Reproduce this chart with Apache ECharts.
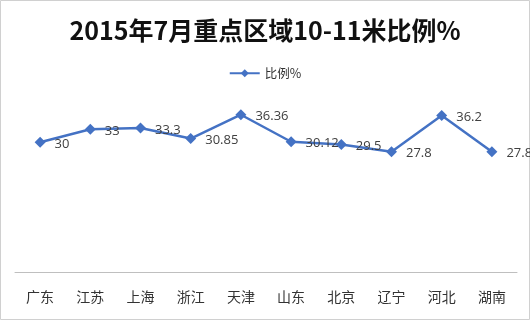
<!DOCTYPE html>
<html><head><meta charset="utf-8">
<script src="https://cdn.jsdelivr.net/npm/echarts@6/dist/echarts.min.js"></script>
<style>html,body{margin:0;padding:0;background:#fff}#c{width:530px;height:322px}</style>
</head><body><div id="c"></div>
<script>
const categories = ['广东','江苏','上海','浙江','天津','山东','北京','辽宁','河北','湖南'];
const values = [30, 33, 33.3, 30.85, 36.36, 30.12, 29.5, 27.8, 36.2, 27.8];
const seriesName = '比例%';
const titleText = '2015年7月重点区域10-11米比例%';

const chart = echarts.init(document.getElementById('c'));
chart.setOption({
  animation: false,
  backgroundColor: '#fff',
  title: {
    text: titleText, left: 'center', top: 13,
    textStyle: {fontFamily: '"Noto Sans CJK SC", sans-serif', fontWeight: 'bold', fontSize: 25, color: '#111'}
  },
  legend: {
    data: [seriesName], top: 62, left: 'center', itemWidth: 30, itemHeight: 10, itemGap: 4,
    textStyle: {fontFamily: '"Noto Sans CJK SC", sans-serif', fontSize: 12.5, color: '#333'}
  },
  grid: {left: 15, right: 13, top: 99, bottom: 50},
  xAxis: {
    type: 'category', data: categories, boundaryGap: true,
    axisLine: {lineStyle: {color: '#bfbfbf', width: 1}},
    axisTick: {show: false},
    axisLabel: {margin: 18, fontSize: 14, color: '#333', fontFamily: '"Noto Sans CJK SC", sans-serif'}
  },
  yAxis: {type: 'value', min: 0, max: 40, show: false, splitLine: {show: false}},
  series: [{
    name: seriesName, type: 'line', data: values,
    symbol: 'diamond', symbolSize: 11,
    itemStyle: {color: '#4472C4'},
    lineStyle: {color: '#4472C4', width: 2.5},
    label: {show: true, position: 'right', distance: 9, fontSize: 13, color: '#404040',
      fontFamily: '"Open Sans", "Noto Sans", sans-serif', offset: [0, 2]}
  }],
  graphic: [{type: 'rect', shape: {x: 0.5, y: 0.5, width: 529, height: 319},
    style: {fill: 'none', stroke: '#d0d0d0', lineWidth: 1}, silent: true}]
});
</script></body></html>
